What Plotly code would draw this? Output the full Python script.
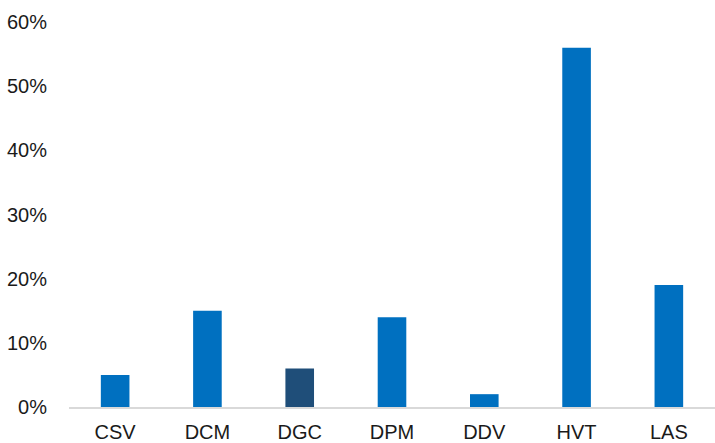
import plotly.graph_objects as go

categories = ["CSV", "DCM", "DGC", "DPM", "DDV", "HVT", "LAS"]
values = [0.05, 0.15, 0.06, 0.14, 0.02, 0.56, 0.19]
colors = ["#0070C0", "#0070C0", "#1F4E79", "#0070C0", "#0070C0", "#0070C0", "#0070C0"]
y_ticks = [0, 0.1, 0.2, 0.3, 0.4, 0.5, 0.6]

fig = go.Figure(go.Bar(x=categories, y=values, marker=dict(color=colors, line=dict(width=0)),
                       width=0.31))

fig.update_layout(
    width=715, height=443,
    margin=dict(l=69, r=0, t=22, b=36),
    plot_bgcolor="white", paper_bgcolor="white",
    font=dict(family="Liberation Sans, Arial, sans-serif", size=20, color="#1a1a1a"),
    showlegend=False,
    bargap=0.69,
)
fig.update_yaxes(range=[0, 0.6], tickvals=y_ticks, tickformat=".0%", showgrid=False, automargin=False,
                 zeroline=False, showline=False, ticks="outside", ticklen=17, tickcolor="rgba(0,0,0,0)")
fig.update_xaxes(showline=True, linecolor="#D9D9D9", linewidth=1.5, showgrid=False, automargin=False,
                 ticks="outside", ticklen=6, tickcolor="rgba(0,0,0,0)")

fig.write_html("out.html")
